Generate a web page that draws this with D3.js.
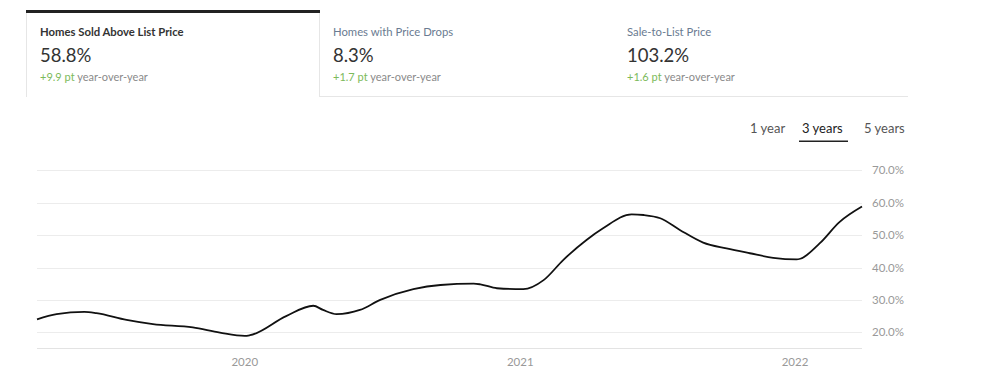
<!DOCTYPE html>
<html><head><meta charset="utf-8">
<script src="https://cdn.jsdelivr.net/npm/d3@7"></script>
<style>
html,body{margin:0;padding:0;background:#fff;}
svg{display:block;font-family:Lato,"Open Sans",sans-serif;}
</style></head>
<body><svg id="chart" width="989" height="382"></svg>
<script>
// ---- data ----
const tabTitles = ["Homes Sold Above List Price", "Homes with Price Drops", "Sale-to-List Price"];
const tabValues = ["58.8%", "8.3%", "103.2%"];
const tabChanges = ["+9.9 pt", "+1.7 pt", "+1.6 pt"];
const rangeOptions = ["1 year", "3 years", "5 years"];
const yTicks = [20, 30, 40, 50, 60, 70];
const xTickYears = ["2020-01-01", "2021-01-01", "2022-01-01"];
const dates = ["2019-03-31","2019-04-26","2019-06-02","2019-06-18","2019-07-28","2019-09-01","2019-10-24","2019-11-29",
  "2020-01-01","2020-01-08","2020-02-25","2020-04-01","2020-04-14","2020-05-02","2020-06-02","2020-06-29","2020-08-12",
  "2020-09-17","2020-10-31","2020-11-09","2020-12-01","2021-01-05","2021-02-01","2021-02-27","2021-03-30","2021-04-21",
  "2021-05-29","2021-06-14","2021-07-06","2021-08-01","2021-09-01","2021-10-02","2021-11-02","2021-12-03","2022-01-03",
  "2022-01-08","2022-02-03","2022-03-01","2022-03-31"];
const values = [24.0,25.6,26.3,25.9,23.8,22.5,21.5,19.9,
  18.9,19.1,25.0,28.2,26.9,25.6,26.9,30.0,33.3,
  34.6,35.0,34.8,33.6,33.3,36.1,42.3,48.5,52.1,
  56.4,56.2,55.2,51.6,47.7,45.9,44.4,43.0,42.5,
  42.7,47.5,54.0,58.8];

const svg = d3.select("#chart");
const parse = d3.utcParse("%Y-%m-%d");

// ---- tabs ----
const tabX = [26, 319, 613];
svg.append("line").attr("x1", 319).attr("x2", 908).attr("y1", 96.5).attr("y2", 96.5)
  .attr("stroke", "#e6e6e6").attr("stroke-width", 1);
svg.append("line").attr("x1", 26.5).attr("x2", 26.5).attr("y1", 12).attr("y2", 97).attr("stroke", "#e6e6e6");
svg.append("line").attr("x1", 319.5).attr("x2", 319.5).attr("y1", 12).attr("y2", 97).attr("stroke", "#e6e6e6");
svg.append("rect").attr("x", 26).attr("y", 10).attr("width", 294).attr("height", 3).attr("fill", "#222");

tabTitles.forEach((t, i) => {
  const g = svg.append("g").attr("transform", `translate(${tabX[i] + 14},0)`);
  g.append("text").attr("x", 0).attr("y", 35.5).attr("font-size", 11.3)
    .attr("font-weight", i === 0 ? 700 : 400).attr("fill", i === 0 ? "#333" : "#6a7b91").text(t);
  g.append("text").attr("x", 0).attr("y", 62).attr("font-size", 18.5).attr("fill", "#333").text(tabValues[i]);
  const tx = g.append("text").attr("x", 0).attr("y", 80.5).attr("font-size", 11);
  tx.append("tspan").attr("fill", "#7cba5a").text(tabChanges[i] + " ");
  tx.append("tspan").attr("fill", "#8a8a8a").text("year-over-year");
});

// ---- range selector ----
const optX = [750, 802, 864];
rangeOptions.forEach((o, i) => {
  svg.append("text").attr("x", optX[i]).attr("y", 133).attr("font-size", 13)
    .attr("fill", i === 1 ? "#222" : "#555").text(o);
});
svg.append("rect").attr("x", 799).attr("y", 140.5).attr("width", 49).attr("height", 1.5).attr("fill", "#222");

// ---- chart ----
const x = d3.scaleUtc().domain([parse("2019-03-31"), parse("2022-03-31")]).range([37, 862]);
const y = d3.scaleLinear().domain([15, 70]).range([348.5, 170.3]);

const grid = svg.append("g");
grid.selectAll("line").data(yTicks).join("line")
  .attr("x1", 37).attr("x2", 862).attr("y1", d => Math.round(y(d)) + 0.5).attr("y2", d => Math.round(y(d)) + 0.5)
  .attr("stroke", "#ececec").attr("stroke-width", 1);
grid.selectAll("text").data(yTicks).join("text")
  .attr("x", 872).attr("y", d => y(d)).attr("dy", "0.35em").attr("font-size", 11.5).attr("fill", "#999")
  .text(d => d3.format(".1f")(d) + "%");
svg.append("line").attr("x1", 37).attr("x2", 862).attr("y1", 348.5).attr("y2", 348.5).attr("stroke", "#e3e3e3");

svg.selectAll(".xt").data(xTickYears).join("text").attr("class", "xt")
  .attr("x", d => x(parse(d))).attr("y", 366).attr("text-anchor", "middle")
  .attr("font-size", 11.5).attr("fill", "#999").text(d => d3.utcFormat("%Y")(parse(d)));

const pts = dates.map((d, i) => [parse(d), values[i]]);
svg.append("path").datum(pts)
  .attr("fill", "none").attr("stroke", "#111").attr("stroke-width", 1.8)
  .attr("d", d3.line().x(d => x(d[0])).y(d => y(d[1])).curve(d3.curveMonotoneX));
</script></body></html>
